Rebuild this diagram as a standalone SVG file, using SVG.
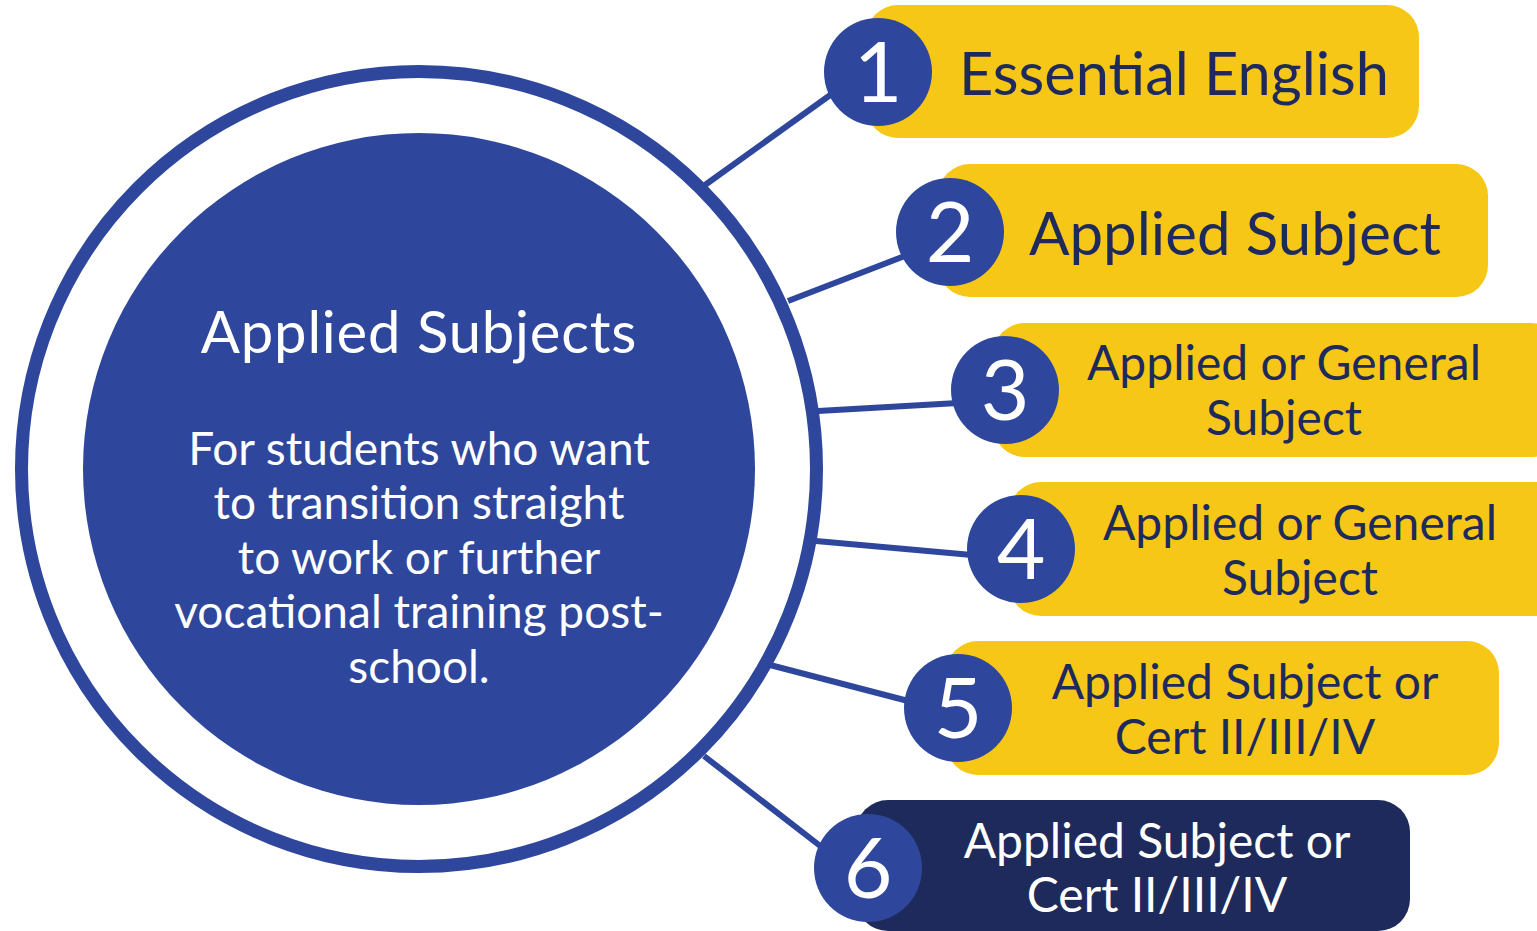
<svg xmlns="http://www.w3.org/2000/svg" width="1537" height="931" viewBox="0 0 1537 931">
<style>
.pill{fill:#F6C716}
.pill.dark{fill:#1F2A5C}
.num{fill:#2E479C}
.numt{font-family:Lato,"Noto Sans",sans-serif;font-size:84px;fill:#fff;text-anchor:middle}
.lbl{font-family:Lato,"Noto Sans",sans-serif;fill:#1F2A5C;text-anchor:middle}
.lbl.w{fill:#fff}
.conn line{stroke:#2E479C;stroke-width:6;stroke-linecap:butt}
.ctext{font-family:Lato,"Noto Sans",sans-serif;fill:#fff;text-anchor:middle}
</style>
<rect width="1537" height="931" fill="#fff"/>
<g id="center">
<circle cx="419" cy="469" r="397.5" fill="none" stroke="#2E479C" stroke-width="13"/>
<circle cx="419" cy="469" r="336" fill="#2E479C"/>
<text class="ctext" x="419" y="353" font-size="58" letter-spacing="0.8">Applied Subjects</text>
<text class="ctext" x="419" y="465" font-size="46">For students who want</text>
<text class="ctext" x="419" y="519" font-size="46">to transition straight</text>
<text class="ctext" x="419" y="574" font-size="46">to work or further</text>
<text class="ctext" x="419" y="628" font-size="46">vocational training post-</text>
<text class="ctext" x="419" y="683" font-size="46">school.</text>
</g>
<g id="connectors" class="conn">
<line x1="705" y1="185" x2="840" y2="88"/>
<line x1="788" y1="301" x2="910" y2="254"/>
<line x1="818" y1="411" x2="958" y2="403"/>
<line x1="816" y1="541" x2="972" y2="555"/>
<line x1="770" y1="665" x2="912" y2="702"/>
<line x1="704" y1="756" x2="828" y2="852"/>
</g>
<g id="node1">
<rect class="pill" x="866" y="5" width="553" height="133" rx="32"/>
<circle class="num" cx="878" cy="72" r="54"/>
<text class="numt" x="878" y="102">1</text>
<text class="lbl" x="1174" y="95" font-size="59.5">Essential English</text>
</g>
<g id="node2">
<rect class="pill" x="938" y="164" width="550" height="133" rx="32"/>
<circle class="num" cx="950" cy="232" r="54"/>
<text class="numt" x="950" y="262">2</text>
<text class="lbl" x="1235" y="255" font-size="60">Applied Subject</text>
</g>
<g id="node3">
<rect class="pill" x="993" y="323" width="570" height="134" rx="32"/>
<circle class="num" cx="1005" cy="390" r="54"/>
<text class="numt" x="1005" y="420">3</text>
<text class="lbl" x="1284" y="380" font-size="48">Applied or General</text>
<text class="lbl" x="1284" y="435" font-size="48">Subject</text>
</g>
<g id="node4">
<rect class="pill" x="1009" y="482" width="560" height="134" rx="32"/>
<circle class="num" cx="1021" cy="549" r="54"/>
<text class="numt" x="1021" y="579">4</text>
<text class="lbl" x="1300" y="540" font-size="48">Applied or General</text>
<text class="lbl" x="1300" y="595" font-size="48">Subject</text>
</g>
<g id="node5">
<rect class="pill" x="946" y="641" width="553" height="134" rx="32"/>
<circle class="num" cx="958" cy="708" r="54"/>
<text class="numt" x="958" y="738">5</text>
<text class="lbl" x="1245" y="699" font-size="48">Applied Subject or</text>
<text class="lbl" x="1245" y="754" font-size="48">Cert II/III/IV</text>
</g>
<g id="node6">
<rect class="pill dark" x="856" y="800" width="554" height="131" rx="32"/>
<circle class="num" cx="868" cy="868" r="54"/>
<text class="numt" x="868" y="898">6</text>
<text class="lbl w" x="1157" y="858" font-size="48">Applied Subject or</text>
<text class="lbl w" x="1157" y="912" font-size="48">Cert II/III/IV</text>
</g>
</svg>
